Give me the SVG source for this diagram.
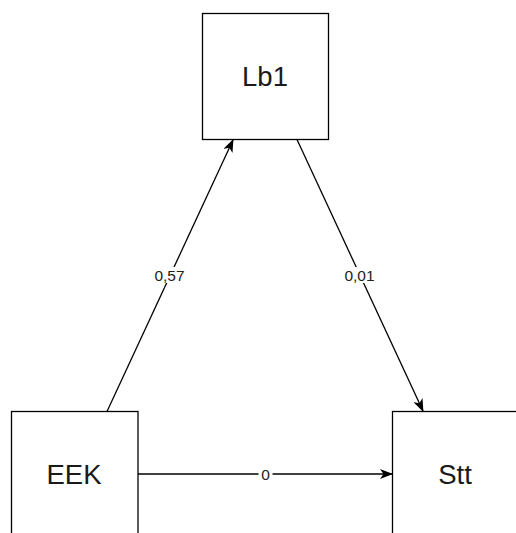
<svg xmlns="http://www.w3.org/2000/svg" width="516" height="533" viewBox="0 0 516 533">
<defs>
<style>
.box{fill:#fff;stroke:#000;stroke-width:1.3}
.nt{font-family:"Liberation Sans",Arial,sans-serif;font-size:27.5px;fill:#1a1a1a;text-anchor:middle}
.edge{stroke:#000;stroke-width:1.3;fill:none}
.lbg{fill:#fff}
.lt{font-family:"Liberation Sans",Arial,sans-serif;font-size:15.5px;fill:#222;text-anchor:middle}
</style>
<marker id="arr" viewBox="0 0 13 10" refX="12" refY="5" markerWidth="13" markerHeight="10" markerUnits="userSpaceOnUse" orient="auto">
<path d="M0,0 L13,5 L0,10 L3.5,5 z" fill="#000"/>
</marker>
</defs>
<rect width="516" height="533" fill="#fff"/>
<g id="connectors">
<line class="edge" x1="107" y1="411.5" x2="233" y2="140" marker-end="url(#arr)"/>
<line class="edge" x1="297" y1="139.5" x2="423" y2="411" marker-end="url(#arr)"/>
<line class="edge" x1="138" y1="474" x2="392" y2="474" marker-end="url(#arr)"/>
<rect class="lbg" x="151" y="267" width="37" height="16"/>
<text class="lt" x="169.5" y="281">0,57</text>
<rect class="lbg" x="341" y="267" width="37" height="16"/>
<text class="lt" x="359.5" y="281">0,01</text>
<rect class="lbg" x="258.5" y="466" width="14" height="16"/>
<text class="lt" x="265.5" y="479.5">0</text>
</g>
<g id="node-lb1">
<rect class="box" x="202.5" y="13.5" width="126" height="126"/>
<text class="nt" x="265" y="86">Lb1</text>
</g>
<g id="node-eek">
<rect class="box" x="11.5" y="411.5" width="126.5" height="126"/>
<text class="nt" x="74" y="484">EEK</text>
</g>
<g id="node-stt">
<rect class="box" x="392.5" y="411.5" width="126" height="126"/>
<text class="nt" x="455" y="484">Stt</text>
</g>
</svg>
